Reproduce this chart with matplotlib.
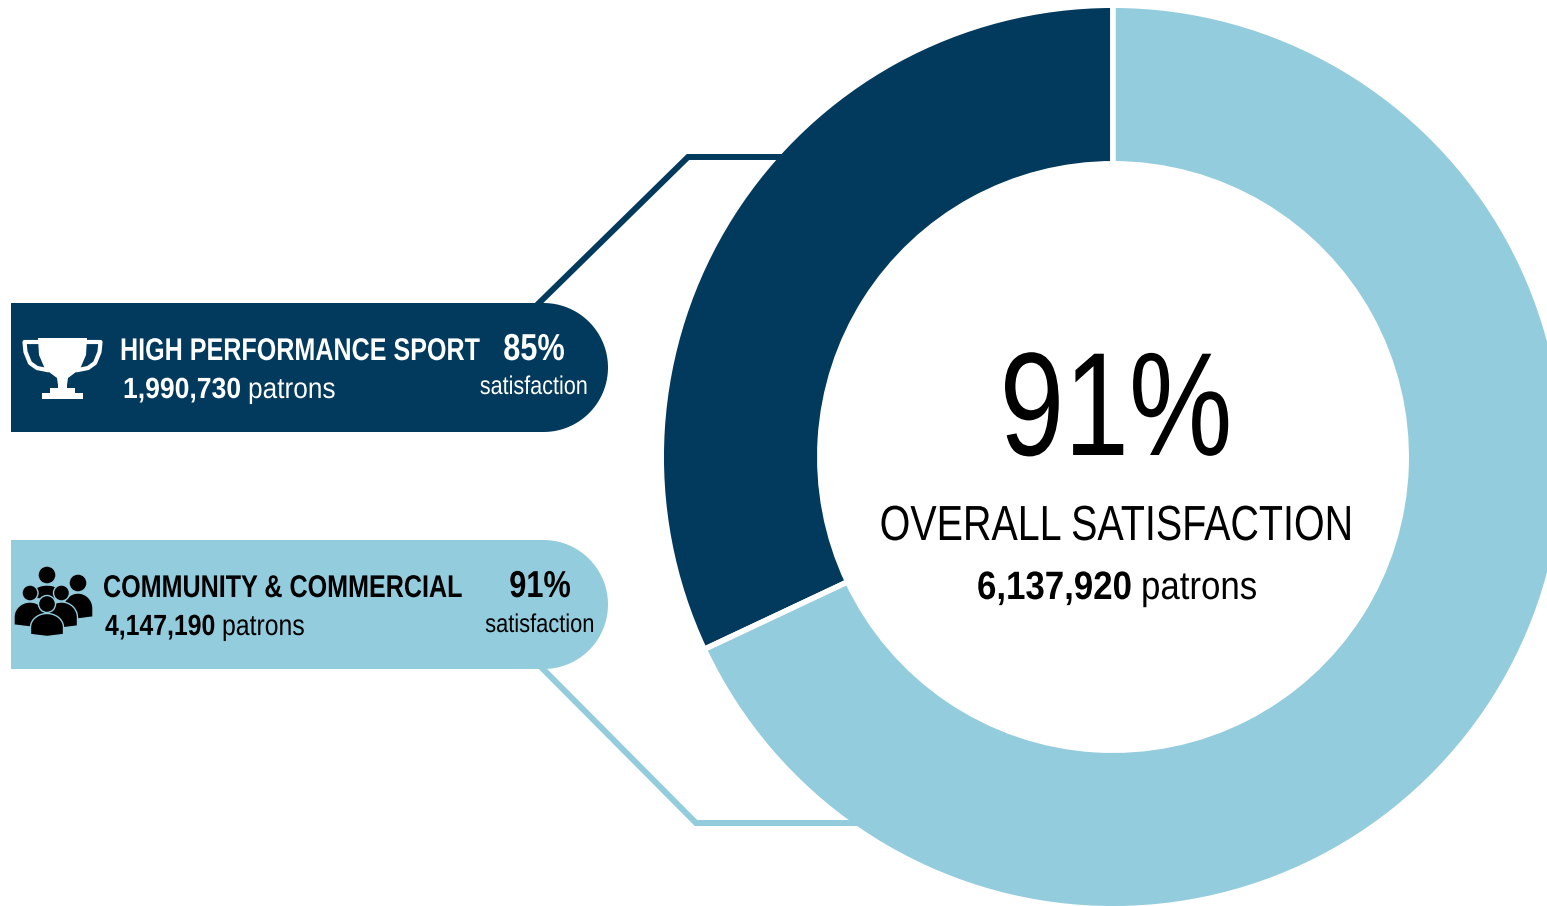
import numpy as np
import matplotlib
matplotlib.use('Agg')
import matplotlib.pyplot as plt
from matplotlib.patches import Polygon, Circle
from matplotlib.patheffects import AbstractPathEffect
from matplotlib.text import Text
from matplotlib.transforms import Affine2D, Bbox

# data
segments = ['HIGH PERFORMANCE SPORT', 'COMMUNITY & COMMERCIAL']
shares = [32.0, 68.0]   # ring split as drawn
patrons = ['1,990,730', '4,147,190']
satisfaction = ['85%', '91%']
overall_pct = '91%'
overall_label = 'OVERALL SATISFACTION'
overall_patrons = '6,137,920'

DARK = '#023A5D'
LIGHT = '#93CCDD'
W, H = 1547, 906

fig = plt.figure(figsize=(W / 100, H / 100), dpi=100)
ax = fig.add_axes([0, 0, 1, 1])


def Y(y):
    # picture y (from top) to axes y
    return H - y


class Squeeze(AbstractPathEffect):
    # the reference text is Arial stretched narrow, no such font here
    def __init__(self, x0, sx):
        super().__init__()
        self.x0, self.sx = x0, sx

    def draw_path(self, renderer, gc, tpath, affine, rgbFace=None):
        squeezed = affine + Affine2D().translate(-self.x0, 0).scale(self.sx, 1).translate(self.x0, 0)
        renderer.draw_path(gc, tpath, squeezed, rgbFace)


class NarrowText(Text):
    sx = 1.0

    def get_window_extent(self, renderer=None, dpi=None):
        bb = super().get_window_extent(renderer, dpi)
        x0 = self.get_position()[0]
        return Bbox([[x0 + (bb.x0 - x0) * self.sx, bb.y0], [x0 + (bb.x1 - x0) * self.sx, bb.y1]])


def txt(x, y, s, size, sx, color='k', weight='normal', ha='left'):
    t = NarrowText(x, Y(y), s, fontsize=size, color=color, fontweight=weight, ha=ha, va='baseline',
                   family='Liberation Sans', zorder=6)
    t.sx = sx
    t.set_path_effects([Squeeze(x, sx)])
    ax.add_artist(t)
    return t


#%% ring
ax.pie(shares, colors=[DARK, LIGHT], startangle=90, counterclock=True, center=(1113, Y(457)), radius=451.8,
       wedgeprops={'width': 158.6, 'edgecolor': 'white', 'linewidth': 4.0, 'zorder': 3})
ax.set_xlim(0, W)
ax.set_ylim(0, H)
ax.set_aspect('equal')
ax.axis('off')

#%% leader lines
ax.plot([537, 688, 783], [Y(305), Y(157), Y(157)], color=DARK, lw=4.3, zorder=4, solid_joinstyle='miter',
        solid_capstyle='butt')
ax.plot([541, 696, 857], [Y(667), Y(823), Y(823)], color=LIGHT, lw=4.3, zorder=4, solid_joinstyle='miter',
        solid_capstyle='butt')


#%% pills
def pill(top, bottom, color):
    r = (bottom - top) / 2
    t = np.linspace(np.pi / 2, -np.pi / 2, 60)
    xs = 608 - r + r * np.cos(t)
    ys = (top + bottom) / 2 - r * np.sin(t)
    pts = [(11, Y(top))] + [(a, Y(b)) for a, b in zip(xs, ys)] + [(11, Y(bottom))]
    ax.add_patch(Polygon(pts, closed=True, fc=color, ec='none', zorder=5))


pill(303, 432, DARK)
pill(540, 669, LIGHT)

#%% trophy icon
cup = [(38, 338), (87, 338), (86, 355), (80, 369), (68, 378), (67, 385), (67, 388), (75, 388), (75, 393),
       (83, 393), (83, 399), (42, 399), (42, 393), (50, 393), (50, 388), (58, 388), (58, 385), (57, 378),
       (45, 369), (39, 355)]
ax.add_patch(Polygon([(a, Y(b)) for a, b in cup], closed=True, fc='white', ec='none', zorder=6))
ax.plot([38, 24.5, 25.5, 30, 37, 47], [Y(342), Y(342), Y(352), Y(363), Y(368), Y(370)], color='white', lw=3.0, zorder=6)
ax.plot([87, 100.5, 99.5, 95, 88, 78], [Y(342), Y(342), Y(352), Y(363), Y(368), Y(370)], color='white', lw=3.0, zorder=6)


#%% people icon
def person(cx, cy, head, bw, bh, z):
    top = cy + head + 1
    t = np.linspace(np.pi, 0, 30)
    pts = [(cx + bw / 2 * np.cos(a), Y(top + bh * 0.6 - bh * 0.6 * np.sin(a))) for a in t]
    pts += [(cx + bw / 2, Y(top + bh - 2)), (cx, Y(top + bh)), (cx - bw / 2, Y(top + bh - 2))]
    ax.add_patch(Polygon(pts, closed=True, fc='k', ec=LIGHT, lw=1.0, zorder=z))
    ax.add_patch(Circle((cx, Y(cy)), head, fc='k', ec=LIGHT, lw=1.0, zorder=z + 0.1))


person(47, 575, 9, 30, 15, 6.0)
person(78, 583, 9, 30, 26, 6.2)
person(30, 593, 8, 32, 25, 6.4)
person(61.5, 593, 8, 32, 26, 6.6)
person(47, 604, 8.5, 33, 23, 6.8)

#%% pill text
txt(120, 360, segments[0], 22.6, 0.80, 'white', 'bold')
txt(123, 398, patrons[0], 21, 0.91, 'white', 'bold')
txt(248, 398, 'patrons', 21, 0.90, 'white')
txt(534, 360, satisfaction[0], 27, 0.82, 'white', 'bold', ha='center')
txt(534, 394, 'satisfaction', 18.5, 0.84, 'white', ha='center')

txt(103, 597, segments[1], 22.6, 0.80, 'k', 'bold')
txt(105, 635, patrons[1], 21, 0.85, 'k', 'bold')
txt(222, 635, 'patrons', 21, 0.85, 'k')
txt(540, 597, satisfaction[1], 27, 0.82, 'k', 'bold', ha='center')
txt(540, 632, 'satisfaction', 18.5, 0.85, 'k', ha='center')

#%% centre text
txt(1116, 455, overall_pct, 106, 0.79, 'k', ha='center')
txt(1116, 540, overall_label, 35.5, 0.80, 'k', ha='center')
txt(977, 599, overall_patrons, 28.5, 0.88, 'k', 'bold')
txt(1141, 599, 'patrons', 28.5, 0.88, 'k')

fig.savefig('out.png', dpi=100)
